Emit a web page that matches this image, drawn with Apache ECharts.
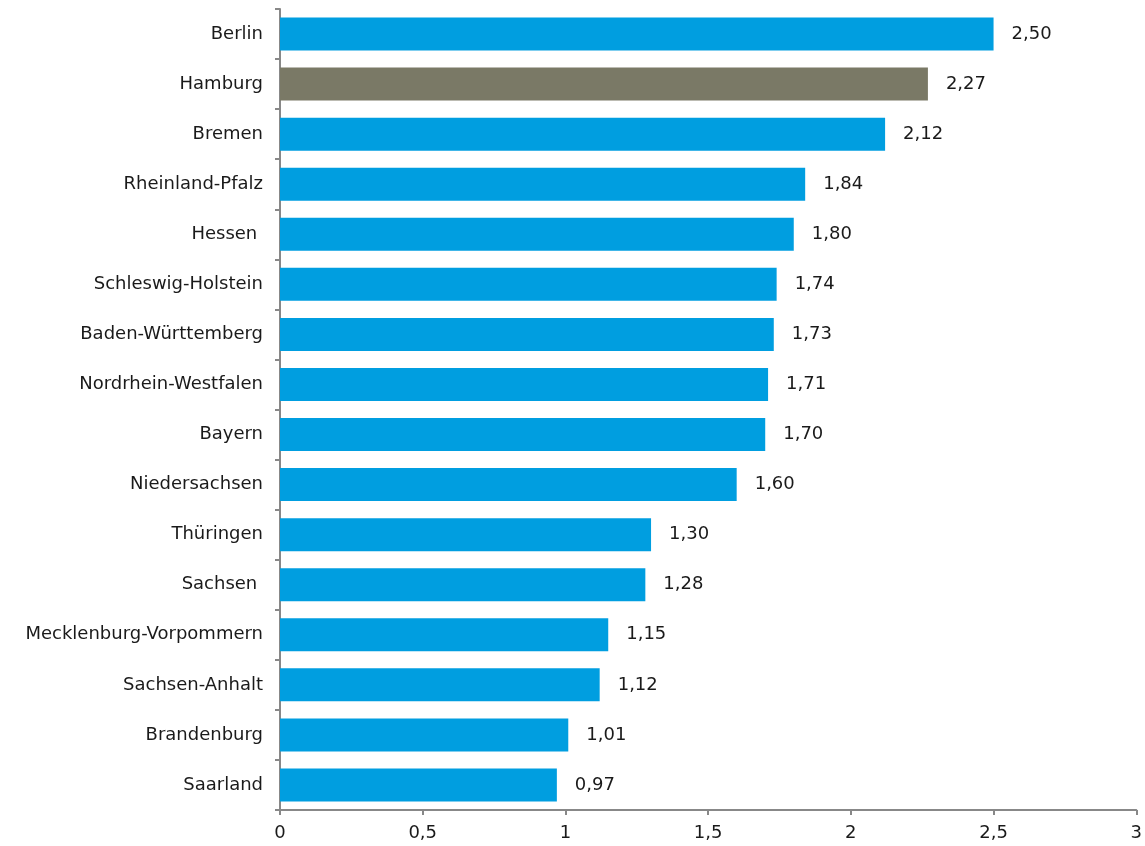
<!DOCTYPE html>
<html>
<head>
<meta charset="utf-8">
<script src="https://cdn.jsdelivr.net/npm/echarts@6/dist/echarts.min.js"></script>
<style>
  html, body { margin: 0; padding: 0; background: #ffffff; }
  #chart { width: 1145px; height: 846px; }
</style>
</head>
<body>
<div id="chart"></div>
<script>
// Bundesländer, top to bottom
const states = [
  'Berlin', 'Hamburg', 'Bremen', 'Rheinland-Pfalz', 'Hessen ', 'Schleswig-Holstein',
  'Baden-Württemberg', 'Nordrhein-Westfalen', 'Bayern', 'Niedersachsen', 'Thüringen',
  'Sachsen ', 'Mecklenburg-Vorpommern', 'Sachsen-Anhalt', 'Brandenburg', 'Saarland'
];
const values = [2.50, 2.27, 2.12, 1.84, 1.80, 1.74, 1.73, 1.71, 1.70, 1.60, 1.30, 1.28, 1.15, 1.12, 1.01, 0.97];
const highlighted = 'Hamburg';

const BLUE = '#009ee0';
const GREY = '#7a7966';
const FONT = 'DejaVu Sans';

const fmt = v => v.toFixed(2).replace('.', ',');
const axisFmt = v => String(v).replace('.', ',');

const chart = echarts.init(document.getElementById('chart'), null, { renderer: 'canvas' });
chart.setOption({
  animation: false,
  backgroundColor: '#ffffff',
  grid: { left: 280, right: 7, top: 9, bottom: 36, containLabel: false },
  xAxis: {
    type: 'value',
    min: 0, max: 3, interval: 0.5,
    axisLine: { show: true, lineStyle: { color: '#888888', width: 2 } },
    axisTick: { show: true, length: 5, lineStyle: { color: '#888888', width: 2 } },
    splitLine: { show: false },
    axisLabel: { color: '#1a1a1a', fontFamily: FONT, fontSize: 18, margin: 14, formatter: axisFmt }
  },
  yAxis: {
    type: 'category',
    inverse: true,
    data: states,
    axisLine: { show: true, lineStyle: { color: '#888888', width: 2 } },
    axisTick: { show: true, length: 5, lineStyle: { color: '#888888', width: 2 } },
    axisLabel: { color: '#1a1a1a', fontFamily: FONT, fontSize: 18, margin: 17 }
  },
  series: [{
    type: 'bar',
    data: values.map((v, i) => ({
      value: v,
      itemStyle: { color: states[i] === highlighted ? GREY : BLUE }
    })),
    barCategoryGap: '34%',
    label: {
      show: true,
      position: 'right',
      distance: 18,
      color: '#1a1a1a',
      fontFamily: FONT,
      fontSize: 18,
      formatter: p => fmt(p.value)
    }
  }]
});
</script>
</body>
</html>
